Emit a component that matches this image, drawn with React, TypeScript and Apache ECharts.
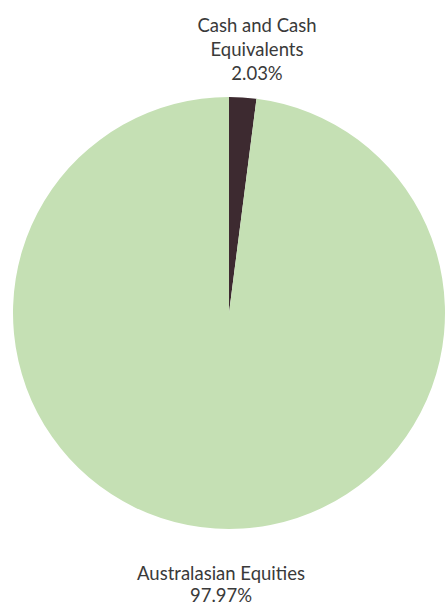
import React, { useEffect, useRef } from "react";
import * as echarts from "echarts";

const categories = ["Cash and Cash Equivalents", "Australasian Equities"];
const labelLines = [["Cash and Cash", "Equivalents"], ["Australasian Equities"]];
const values = [2.03, 97.97];
const colors = ["#3d2a30", "#c5e0b4"];
const labelPos = [
  { x: 257, y: 49, lh: 24 },
  { x: 221, y: 584, lh: 22 },
];

export default function App() {
  const ref = useRef<HTMLDivElement>(null);
  useEffect(() => {
    if (!ref.current) return;
    const chart = echarts.init(ref.current, null, { renderer: "svg" });
    chart.setOption({
      animation: false,
      backgroundColor: "#ffffff",
      series: [
        {
          type: "pie",
          center: [229, 313],
          radius: [0, 216],
          startAngle: 90,
          clockwise: true,
          data: categories.map((c, i) => ({
            name: c,
            value: values[i],
            itemStyle: { color: colors[i] },
            label: { lineHeight: labelPos[i].lh },
          })),
          label: {
            show: true,
            position: "outside",
            alignTo: "none",
            overflow: "none",
            formatter: (p: any) =>
              labelLines[p.dataIndex].join("\n") + "\n" + values[p.dataIndex].toFixed(2) + "%",
            fontFamily: "Lato, sans-serif",
            fontSize: 18.5,
            color: "#3a3a3a",
            align: "center",
          },
          labelLine: { show: false },
          labelLayout: (p: any) => ({
            x: labelPos[p.dataIndex].x,
            y: labelPos[p.dataIndex].y,
            align: "center",
            verticalAlign: "middle",
          }),
          emphasis: { disabled: true },
        },
      ],
    });
    return () => chart.dispose();
  }, []);
  return (
    <div
      ref={ref}
      style={{ width: 446, height: 607, position: "absolute", left: 0, top: 0 }}
    />
  );
}
